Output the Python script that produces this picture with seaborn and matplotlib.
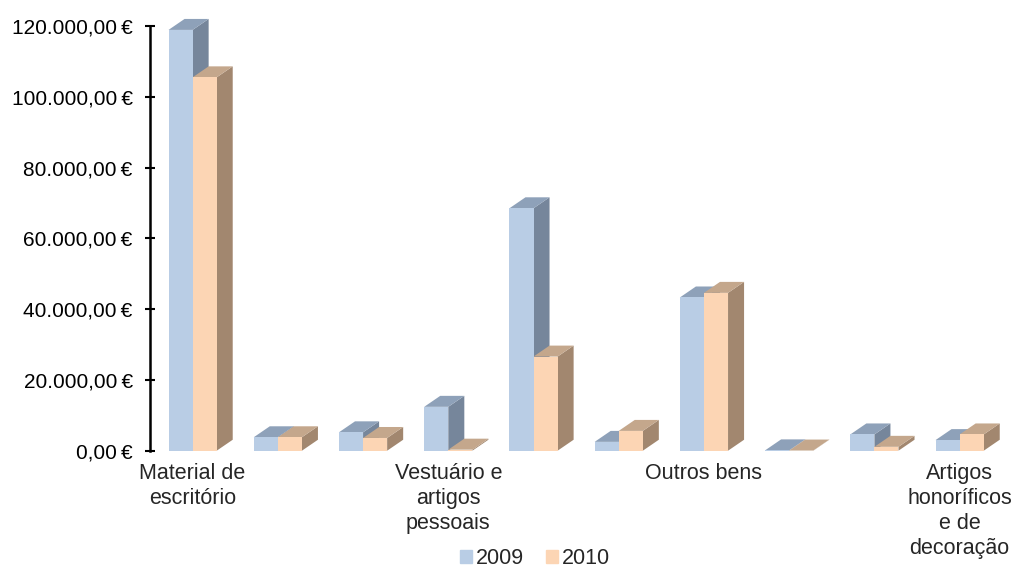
import pandas as pd
import seaborn as sns
import matplotlib.pyplot as plt
from matplotlib.patches import Polygon
from matplotlib.ticker import FuncFormatter

# rótulos do eixo x (só alguns aparecem no gráfico original)
rotulos = ["Material de\nescritório", "", "", "Vestuário e\nartigos\npessoais", "", "",
           "Outros bens", "", "", "Artigos\nhonoríficos\ne de\ndecoração"]
anos = ["2009", "2010"]
valores_2009 = [118900, 3800, 5200, 12400, 68500, 2500, 43300, 100, 4600, 3000]
valores_2010 = [105500, 3800, 3600, 300, 26600, 5600, 44600, 50, 1100, 4600]

# cores: frente, topo, lado
cor_frente = {"2009": "#B9CDE5", "2010": "#FCD5B4"}
cor_topo = {"2009": "#8EA1B9", "2010": "#C4A78C"}
cor_lado = {"2009": "#76869B", "2010": "#A2876F"}

dados = pd.DataFrame({
    "pos": list(range(len(rotulos))) * 2,
    "ano": ["2009"] * len(rotulos) + ["2010"] * len(rotulos),
    "valor": valores_2009 + valores_2010,
})

sns.set_style("white")
plt.rcParams["font.family"] = ["Liberation Sans", "DejaVu Sans"]

fig = plt.figure(figsize=(10.17, 5.68), dpi=100)
ax = fig.add_axes([0.1475, 0.2065, 0.838, 0.7477])

sns.barplot(data=dados, x="pos", y="valor", hue="ano", hue_order=anos,
            palette=cor_frente, width=0.565, gap=0, saturation=1,
            linewidth=0, errorbar=None, legend=False, ax=ax)

# efeito 3D: lado e topo de cada barra
dx, dy = 0.188, 3100
for ano, cont in zip(anos, ax.containers):
    for barra in cont:
        barra.set_zorder(3)
        x0 = barra.get_x()
        w = barra.get_width()
        h = barra.get_height()
        lado = Polygon([(x0 + w, 0), (x0 + w + dx, dy), (x0 + w + dx, h + dy), (x0 + w, h)],
                       closed=True, facecolor=cor_lado[ano], edgecolor="none",
                       zorder=2, clip_on=False)
        topo = Polygon([(x0, h), (x0 + dx, h + dy), (x0 + w + dx, h + dy), (x0 + w, h)],
                       closed=True, facecolor=cor_topo[ano], edgecolor="none",
                       zorder=2, clip_on=False)
        ax.add_patch(lado)
        ax.add_patch(topo)

ax.set_xlim(-0.5, 9.5)
ax.set_ylim(0, 120000)
ax.set_yticks(range(0, 120001, 20000))
ax.yaxis.set_major_formatter(FuncFormatter(
    lambda v, p: f"{v:,.2f}".replace(",", "X").replace(".", ",").replace("X", ".") + "\u2009€"))
ax.set_xticks(range(len(rotulos)))
ax.set_xticklabels(rotulos, fontsize=15.5, linespacing=1.25)
ax.tick_params(axis="x", length=0, pad=9)
ax.tick_params(axis="y", labelsize=15, direction="inout", length=7, width=1.5,
               left=True, pad=9, colors="black")
ax.set_xlabel("")
ax.set_ylabel("")

for lado_eixo in ["top", "right", "bottom"]:
    ax.spines[lado_eixo].set_visible(False)
ax.spines["left"].set_color("black")
ax.spines["left"].set_linewidth(1.8)

handles = [plt.Rectangle((0, 0), 1, 1, color=cor_frente[a]) for a in anos]
fig.legend(handles, anos, loc="center", bbox_to_anchor=(0.526, 0.017), ncol=2,
           frameon=False, fontsize=15.5, handlelength=0.55, handleheight=0.55,
           handletextpad=0.2, columnspacing=1.0, borderpad=0.1)

fig.savefig("out.png", dpi=100)
